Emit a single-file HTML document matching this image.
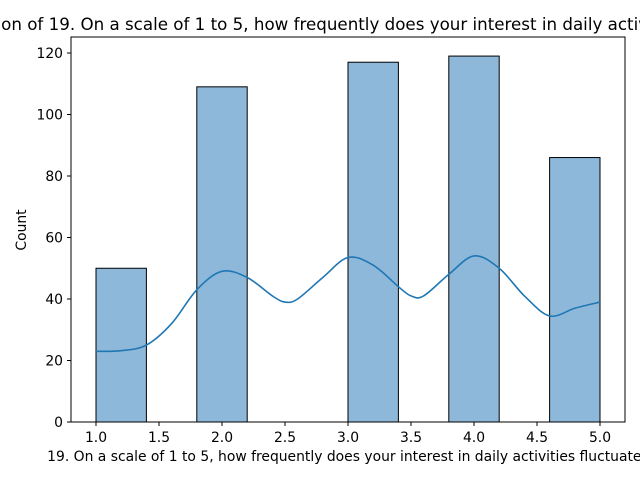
<!DOCTYPE html>
<html><head><meta charset="utf-8"><style>
body{margin:0;background:#fff;}
svg{display:block;font-family:"DejaVu Sans","Liberation Sans",sans-serif;}
</style></head><body>
<svg id="chart" width="640" height="480" viewBox="0 0 640 480" xmlns="http://www.w3.org/2000/svg">
<text x="348" y="30" text-anchor="middle" font-size="16.7" fill="#000">Distribution of 19. On a scale of 1 to 5, how frequently does your interest in daily activities fluctuate?</text>
<g id="bars"></g>
<path id="kde" fill="none" stroke="#1f77b4" stroke-width="1.6" stroke-linejoin="round"></path>
<rect x="71" y="37" width="554" height="385" fill="none" stroke="#000" stroke-width="1"></rect>
<g id="ticks"></g>
<text x="348" y="461" text-anchor="middle" font-size="13.9">19. On a scale of 1 to 5, how frequently does your interest in daily activities fluctuate?</text>
<text transform="translate(26,230) rotate(-90)" text-anchor="middle" font-size="13.9">Count</text>
</svg>
<script>
const binStarts=[1.0,1.8,3.0,3.8,4.6];
const counts=[50,109,117,119,86];
const binWidth=0.4;
const kdeX=[1.0,1.2,1.4,1.6,1.8,2.0,2.2,2.4,2.5,2.6,2.8,3.0,3.2,3.4,3.5,3.6,3.8,4.0,4.2,4.4,4.6,4.8,5.0];
const kdeY=[23,23.2,25,32,43,49,47,41,39,40,47,53.5,51,44,41,41,48,54,50,41,34.5,37,39];
const xTicks=[1.0,1.5,2.0,2.5,3.0,3.5,4.0,4.5,5.0];
const yTicks=[0,20,40,60,80,100,120];
const NS="http://www.w3.org/2000/svg";
const sx=v=>96+(v-1)*126;
const sy=v=>422-v*3.075;
const bars=document.getElementById('bars');
binStarts.forEach((b,i)=>{
 const r=document.createElementNS(NS,'rect');
 r.setAttribute('x',sx(b));r.setAttribute('y',sy(counts[i]));
 r.setAttribute('width',sx(b+binWidth)-sx(b));r.setAttribute('height',sy(0)-sy(counts[i]));
 r.setAttribute('fill','#8db8da');r.setAttribute('stroke','#000');r.setAttribute('stroke-width','1');
 
 
 bars.appendChild(r);
});
const pts=kdeX.map((x,i)=>[sx(x),sy(kdeY[i])]);
let d='M'+pts[0][0]+','+pts[0][1];
for(let i=0;i<pts.length-1;i++){
 const p0=pts[Math.max(0,i-1)],p1=pts[i],p2=pts[i+1],p3=pts[Math.min(pts.length-1,i+2)];
 const c1=[p1[0]+(p2[0]-p0[0])/6,p1[1]+(p2[1]-p0[1])/6];
 const c2=[p2[0]-(p3[0]-p1[0])/6,p2[1]-(p3[1]-p1[1])/6];
 d+=` C${c1[0]},${c1[1]} ${c2[0]},${c2[1]} ${p2[0]},${p2[1]}`;
}
document.getElementById('kde').setAttribute('d',d);
const tg=document.getElementById('ticks');
xTicks.forEach(t=>{
 const l=document.createElementNS(NS,'line');
 l.setAttribute('x1',sx(t));l.setAttribute('x2',sx(t));l.setAttribute('y1',422);l.setAttribute('y2',426);l.setAttribute('stroke','#000');
 
 
 tg.appendChild(l);
 const tx=document.createElementNS(NS,'text');
 tx.setAttribute('x',sx(t));tx.setAttribute('y',442);tx.setAttribute('text-anchor','middle');tx.setAttribute('font-size','13.9');
 tx.textContent=t.toFixed(1);
 
 
 tg.appendChild(tx);
});
yTicks.forEach(t=>{
 const l=document.createElementNS(NS,'line');
 l.setAttribute('x1',67);l.setAttribute('x2',71);l.setAttribute('y1',sy(t));l.setAttribute('y2',sy(t));l.setAttribute('stroke','#000');
 
 
 tg.appendChild(l);
 const tx=document.createElementNS(NS,'text');
 tx.setAttribute('x',63);tx.setAttribute('y',sy(t)+5);tx.setAttribute('text-anchor','end');tx.setAttribute('font-size','13.9');
 tx.textContent=t;
 
 
 tg.appendChild(tx);
});
</script>
</body></html>
